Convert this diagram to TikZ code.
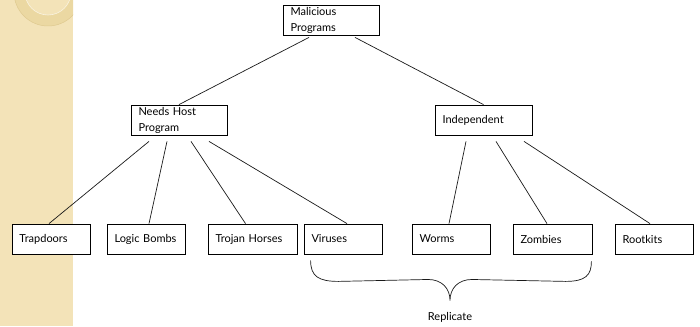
\documentclass[tikz,border=0pt]{standalone}
\usepackage{fontspec}
\setmainfont{Lato}
\usetikzlibrary{calc}
\definecolor{panel}{HTML}{F3E3B8}
\definecolor{ringc}{HTML}{EBD8A2}
\definecolor{ringedge}{HTML}{DFCA90}
\begin{document}
\begin{tikzpicture}[x=1pt,y=-1pt,
  box/.style={draw=black,fill=white,line width=0.8pt,minimum height=30pt,inner xsep=7.5pt,inner ysep=0pt,
    font=\fontsize{11}{16}\selectfont,align=left},
  conn/.style={line width=0.7pt,draw=black!90}]
\useasboundingbox (0,0) rectangle (700,326);
% left panel
\fill[panel] (0,0) rectangle (73,326);
\begin{scope}
\clip (0,0) rectangle (73,326);
\fill[ringc,even odd rule] (48,-8) circle[radius=34] (48,-8) circle[radius=23];
\draw[ringedge,line width=0.5pt] (48,-8) circle[radius=34];
\draw[white!60!panel,line width=0.6pt] (48,-8) circle[radius=23];
\end{scope}
% nodes
\node[box,minimum width=96pt,text width=81pt] (mal) at (331,20) {Malicious\\Programs};
\node[box,minimum width=96pt,text width=81pt] (nhp) at (179,120) {Needs Host\\Program};
\node[box,minimum width=97pt,text width=82pt] (ind) at (483.5,120) {Independent};
\node[box,minimum width=78pt,text width=63pt] (trap) at (51,239) {Trapdoors};
\node[box,minimum width=78pt,text width=63pt] (logic) at (146,239) {Logic Bombs};
\node[box,minimum width=89pt,text width=74pt] (trojan) at (252.5,239) {Trojan Horses};
\node[box,minimum width=78pt,text width=63pt] (virus) at (343,239) {Viruses};
\node[box,minimum width=78pt,text width=63pt] (worms) at (451,239) {Worms};
\node[box,minimum width=79pt,text width=64pt] (zomb) at (552.5,239) {Zombies};
\node[box,minimum width=78pt,text width=63pt] (root) at (654,239) {Rootkits};
\node[font=\fontsize{11}{13}\selectfont] (rep) at (450,317) {Replicate};
% connectors
\draw[conn] ($(mal.south)+(-22,2)$) -- (nhp.north);
\draw[conn] ($(mal.south)+(24,2)$) -- (ind.north);
\draw[conn] ($(nhp.south)+(-30,6)$) -- ($(trap.north)+(-2,0)$);
\draw[conn] ($(nhp.south)+(-12,6)$) -- ($(logic.north)+(3,0)$);
\draw[conn] ($(nhp.south)+(12,6)$) -- ($(trojan.north)+(-7,0)$);
\draw[conn] ($(nhp.south)+(30,6)$) -- ($(virus.north)+(4,0)$);
\draw[conn] ($(ind.south)+(-17.5,6)$) -- ($(worms.north)+(-2,0)$);
\draw[conn] ($(ind.south)+(12.5,6)$) -- ($(zomb.north)+(-5.5,0)$);
\draw[conn] ($(ind.south)+(40.5,6)$) -- ($(root.north)+(-4,0)$);
% brace
\coordinate (bl) at ($(virus.south west)+(7,6)$);
\coordinate (br) at ($(zomb.south east)+(-1,7)$);
\coordinate (tip) at ($(rep.north)+(0,-8)$);
\draw[conn] (bl) .. controls ($(bl)+(0,16)$) and ($(bl)+(8,21)$) .. ($(bl)+(28,21)$)
  -- ($(tip)+(-22,-21)$) .. controls ($(tip)+(-8,-21)$) and ($(tip)+(0,-12)$) .. (tip)
  .. controls ($(tip)+(0,-12)$) and ($(tip)+(8,-21)$) .. ($(tip)+(22,-21)$)
  -- ($(br)+(-26,20)$) .. controls ($(br)+(-6,20)$) and ($(br)+(0,14)$) .. (br);
\end{tikzpicture}
\end{document}
